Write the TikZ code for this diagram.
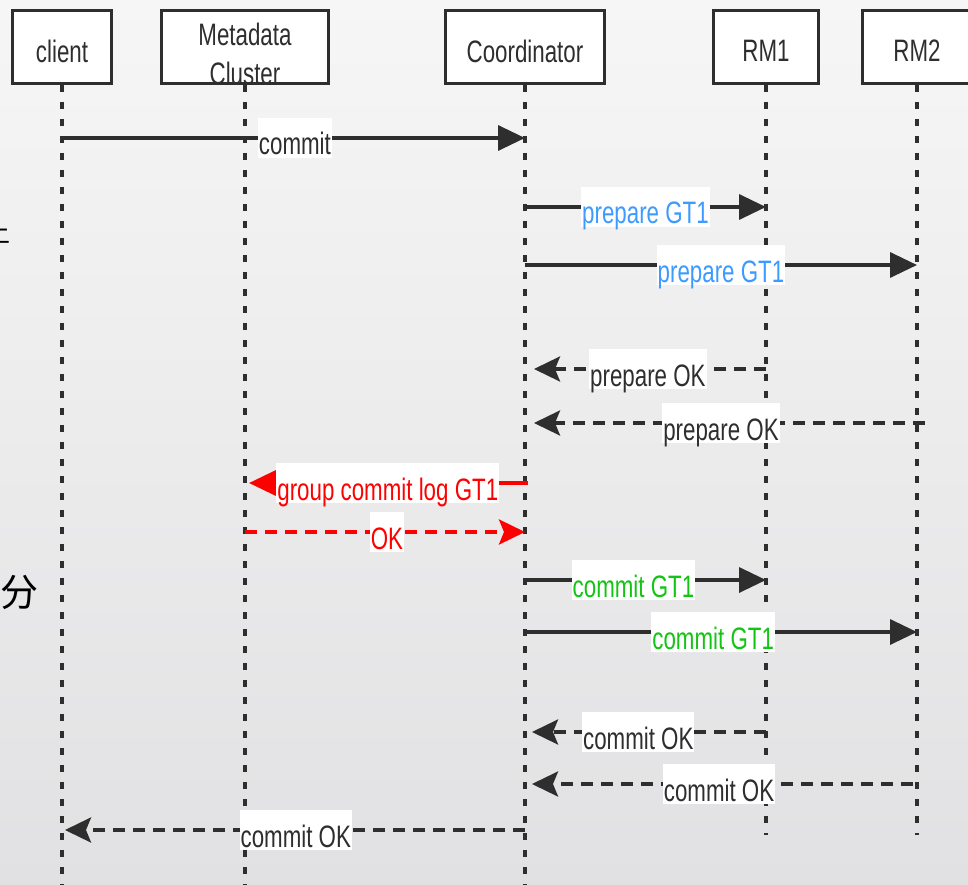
\documentclass[tikz,border=0pt]{standalone}
\usepackage{fontspec}
\setmainfont[FakeStretch=0.72]{Liberation Sans}
\newfontfamily\cjkfont{Noto Sans CJK SC}
\usetikzlibrary{arrows.meta}

\definecolor{ink}{HTML}{2E2E2E}
\definecolor{prepblue}{HTML}{3D9BFF}
\definecolor{okgreen}{HTML}{14C414}
\definecolor{logred}{HTML}{FF0000}
\definecolor{bgtop}{HTML}{F6F6F6}
\definecolor{bgbot}{HTML}{E1E1E3}

\tikzset{
  actor/.style={draw=ink, line width=3pt, fill=white, minimum height=73pt,
    inner sep=0pt},
  actortext/.style={inner sep=0pt, text=ink, align=center,
    font=\fontsize{31}{39}\selectfont},
  life/.style={draw=ink, line width=3.2pt, dash pattern=on 7pt off 10pt},
  msg/.style={draw=ink, line width=3.5pt, -{Triangle[length=27pt,width=25pt]}},
  reply/.style={draw=ink, line width=3.5pt, dash pattern=on 12pt off 8pt,
    -{Stealth[length=26pt,width=25pt,inset=5pt]}},
  lbl/.style={fill=white, inner xsep=1pt, inner ysep=0pt, text height=37pt,
    text depth=3pt, anchor=base, yshift=-17pt, text=ink,
    font=\fontsize{31}{36}\selectfont},
  cjk/.style={inner sep=0pt, text=black, font=\cjkfont\fontsize{26}{28}\selectfont}
}

\begin{document}
\begin{tikzpicture}[x=1pt,y=-1pt]
  % canvas and soft gray backdrop
  \clip (0,0) rectangle (968,885);
  \shade[top color=bgtop, bottom color=bgbot] (0,0) rectangle (968,885);

  % fragments of slide text at the left border
  \node[cjk] (hz1) at (-3,232) {上};
  \node[cjk, font=\cjkfont\fontsize{38}{40}\selectfont] (hz2) at (19,592) {分};

  % participants
  \node[actor, minimum width=99pt]  (client) at (62,47)  {};
  \node[actor, minimum width=167pt] (meta)   at (245,47) {};
  \node[actor, minimum width=159pt] (coord)  at (525,47) {};
  \node[actor, minimum width=105pt] (rm1)    at (766,47) {};
  \node[actor, minimum width=110pt] (rm2)    at (917,47) {};
  \node[actortext] (clienttext) at (62,51)  {client};
  \node[actortext] (metatext)   at (245,54) {Metadata\\Cluster};
  \node[actortext] (coordtext)  at (525,51) {Coordinator};
  \node[actortext] (rm1text)    at (766,51) {RM1};
  \node[actortext] (rm2text)    at (917,51) {RM2};

  % message rows and lifeline ends
  \coordinate (bottom) at (0,890);
  \coordinate (rmend)  at (0,835);
  \coordinate (r1)  at (0,138);
  \coordinate (r2)  at (0,207);
  \coordinate (r3)  at (0,265);
  \coordinate (r4)  at (0,369);
  \coordinate (r5)  at (0,423);
  \coordinate (r6)  at (0,483);
  \coordinate (r7)  at (0,532);
  \coordinate (r8)  at (0,580);
  \coordinate (r9)  at (0,632);
  \coordinate (r10) at (0,732);
  \coordinate (r11) at (0,784);
  \coordinate (r12) at (0,830);

  % lifelines
  \draw[life] (client.south) -- (client.south |- bottom);
  \draw[life] (meta.south)   -- (meta.south |- bottom);
  \draw[life] (coord.south)  -- (coord.south |- bottom);
  \draw[life] (rm1.south)    -- (rm1.south |- rmend);
  \draw[life] (rm2.south)    -- (rm2.south |- rmend);

  % messages
  \draw[msg] (client |- r1) -- (coord |- r1)
    node[lbl, pos=0.503] (l1) {commit};
  \draw[msg] (coord |- r2) -- (rm1 |- r2)
    node[lbl, pos=0.5, text=prepblue] (l2) {prepare GT1};
  \draw[msg] (coord |- r3) -- (rm2 |- r3)
    node[lbl, pos=0.5, text=prepblue] (l3) {prepare GT1};
  \draw[reply, shorten >=9pt] (rm1 |- r4) -- (coord |- r4)
    node[lbl, pos=0.49] (l4) {prepare OK};
  \draw[reply, shorten <=-8pt, shorten >=9pt] (rm2 |- r5) -- (coord |- r5)
    node[lbl, pos=0.5] (l5) {prepare OK};
  \draw[msg, draw=logred, shorten <=-3pt, shorten >=4pt] (coord |- r6) -- (meta |- r6)
    node[lbl, pos=0.49, text=logred] (l6) {group commit log GT1};
  \draw[reply, draw=logred] (meta |- r7) -- (coord |- r7)
    node[lbl, pos=0.507, text=logred] (l7) {OK};
  \draw[msg] (coord |- r8) -- (rm1 |- r8)
    node[lbl, pos=0.45, text=okgreen] (l8) {commit GT1};
  \draw[msg] (coord |- r9) -- (rm2 |- r9)
    node[lbl, pos=0.48, text=okgreen] (l9) {commit GT1};
  \draw[reply, shorten >=7pt] (rm1 |- r10) -- (coord |- r10)
    node[lbl, pos=0.53] (l10) {commit OK};
  \draw[reply, shorten <=4pt, shorten >=7pt] (rm2 |- r11) -- (coord |- r11)
    node[lbl, pos=0.505] (l11) {commit OK};
  \draw[reply, shorten >=3pt] (coord |- r12) -- (client |- r12)
    node[lbl, pos=0.495] (l12) {commit OK};
\end{tikzpicture}
\end{document}
